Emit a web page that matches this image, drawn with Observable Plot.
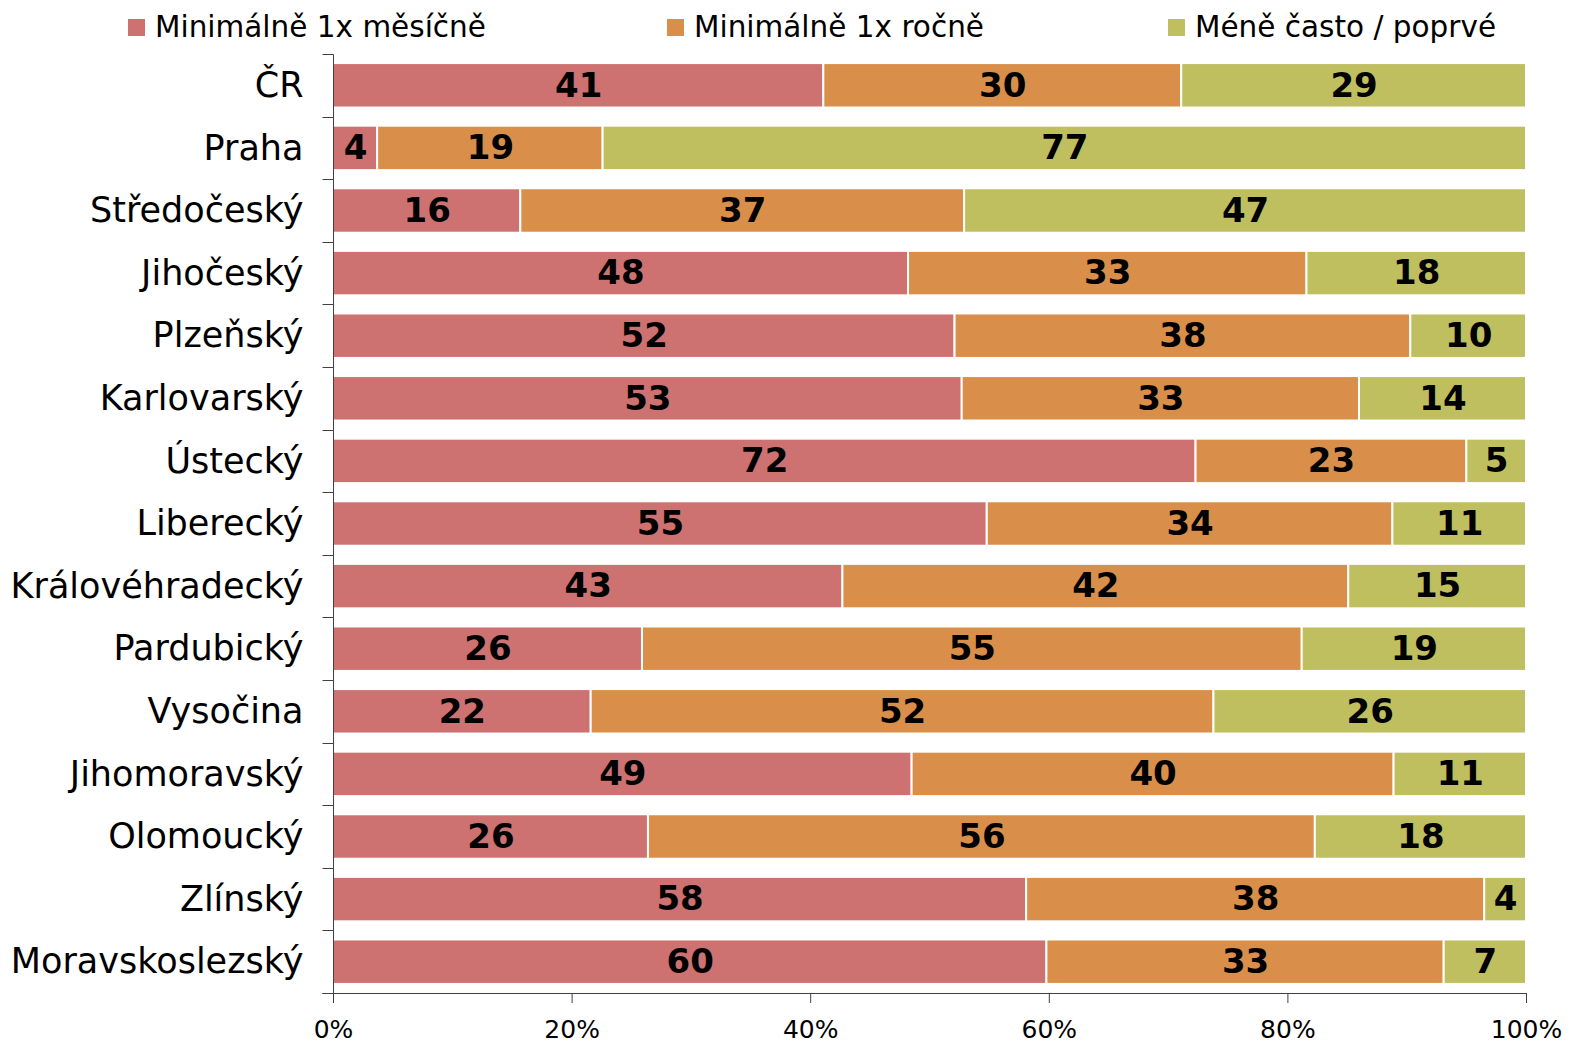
<!DOCTYPE html>
<html>
<head>
<meta charset="utf-8">
<script src="https://cdn.jsdelivr.net/npm/d3@7"></script>
<script src="https://cdn.jsdelivr.net/npm/@observablehq/plot@0.6"></script>
<style>
  html, body { margin: 0; padding: 0; background: #fff; }
  #wrap { position: relative; width: 1570px; height: 1046px; font-family: "DejaVu Sans", Verdana, sans-serif; }
  #legend { position: relative; height: 50px; }
  .item { position: absolute; top: 10px; display: flex; align-items: center; font-size: 29.5px; color: #000; white-space: nowrap; }
  .sw { width: 17px; height: 17px; margin-right: 10px; }
  #chart svg { display: block; }
</style>
</head>
<body>
<div id="wrap">
  <div id="legend"></div>
  <div id="chart"></div>
</div>
<script>
const regions = ["ČR","Praha","Středočeský","Jihočeský","Plzeňský","Karlovarský","Ústecký","Liberecký","Královéhradecký","Pardubický","Vysočina","Jihomoravský","Olomoucký","Zlínský","Moravskoslezský"];
const seriesNames = ["Minimálně 1x měsíčně","Minimálně 1x ročně","Méně často / poprvé"];
const monthly = [41.1, 3.7, 15.7, 48.2, 52.1, 52.7, 72.3, 54.8, 42.7, 25.9, 21.6, 48.5, 26.4, 58.1, 59.8];
const yearly  = [30.0, 18.9, 37.2, 33.4, 38.2, 33.3, 22.7, 34.0, 42.4, 55.3, 52.2, 40.4, 55.9, 38.4, 33.3];
const rarely  = [28.9, 77.4, 47.1, 18.4, 9.7, 14.0, 5.0, 11.2, 14.9, 18.8, 26.2, 11.1, 17.7, 3.5, 6.9];
const xTicks = [0, 20, 40, 60, 80, 100];
const colors = ["#CD7270", "#D98F4A", "#BFBF60"];
const legendLeft = [128, 667, 1168];

const seriesValues = [monthly, yearly, rarely];
const data = [];
regions.forEach((r, i) => {
  seriesNames.forEach((s, j) => {
    data.push({region: r, series: s, value: seriesValues[j][i]});
  });
});

// legend
const legend = d3.select("#legend");
seriesNames.forEach((s, j) => {
  const it = legend.append("div").attr("class", "item").style("left", legendLeft[j] + "px");
  it.append("div").attr("class", "sw").style("background", colors[j]);
  it.append("span").text(s);
});

const axisColor = "#404040";
const pad = 0.29;

function yFrame(index, scales, values, dimensions) {
  const y = scales.y;
  const step = y(regions[1]) - y(regions[0]);
  const bw = y.bandwidth ? y.bandwidth() : step * (1 - pad);
  const gap = step - bw;
  const {width, height, marginLeft, marginRight, marginBottom} = dimensions;
  const x0 = Math.round(marginLeft) + 0.5;
  const yb = Math.round(height - marginBottom) + 0.5;
  const g = d3.create("svg:g").attr("stroke", axisColor).attr("stroke-width", 1).attr("fill", "none");
  const bounds = regions.map(r => y(r) - gap / 2);
  bounds.push(y(regions[regions.length - 1]) + bw + gap / 2);
  const top = Math.round(bounds[0]) + 0.5;
  g.append("line").attr("x1", x0).attr("x2", x0).attr("y1", top).attr("y2", yb);
  bounds.forEach(b => {
    const yy = Math.round(b) + 0.5;
    g.append("line").attr("x1", x0 - 11).attr("x2", x0).attr("y1", yy).attr("y2", yy);
  });
  g.append("line").attr("x1", x0 - 11).attr("x2", Math.round(width - marginRight) + 0.5).attr("y1", yb).attr("y2", yb);
  return g.node();
}

const plot = Plot.plot({
  width: 1570,
  height: 996,
  marginTop: 4,
  marginBottom: 53,
  marginLeft: 333,
  marginRight: 44,
  style: {fontFamily: "'DejaVu Sans', Verdana, sans-serif", background: "#fff", color: "#000"},
  x: {domain: [0, 100], ticks: xTicks, tickFormat: d => d + "%"},
  y: {domain: regions, paddingInner: pad, paddingOuter: pad / 2, align: 0.5, round: false},
  color: {domain: seriesNames, range: colors},
  marks: [
    Plot.barX(data, {x: "value", y: "region", fill: "series", stroke: "white", strokeWidth: 2}),
    Plot.text(data, Plot.stackX({x: "value", y: "region", z: "series", text: d => String(Math.round(d.value)), fill: "#000", fontSize: 34, fontWeight: "bold"})),
    Plot.axisY({tickSize: 0, tickPadding: 30, fontSize: 35, label: null, fill: "#000"}),
    Plot.axisX({ticks: xTicks, tickFormat: d => d + "%", tickSize: 10, tickPadding: 17, fontSize: 25, label: null, stroke: axisColor, fill: "#000"}),
    yFrame
  ]
});
document.getElementById("chart").appendChild(plot);
</script>
</body>
</html>
